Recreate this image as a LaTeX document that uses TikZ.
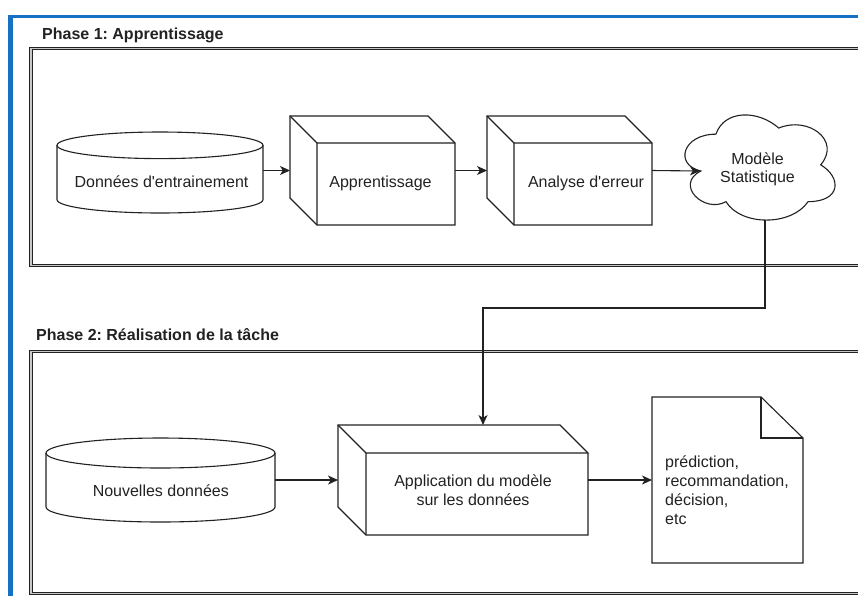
\documentclass[tikz,border=0pt]{standalone}
\usepackage{fontspec}
\setmainfont{Liberation Sans}[Ligatures=TeXOff]
\usetikzlibrary{arrows.meta,calc}
\frenchspacing

\definecolor{frameblue}{RGB}{22,112,196}
\definecolor{ink}{RGB}{34,34,34}

\tikzset{
  shapeline/.style={draw=ink, line width=1.1pt, line join=miter, fill=white},
  anchorbox/.style={inner sep=0pt, outer sep=0pt, draw=none},
  lbl/.style={text=ink, font=\fontsize{16}{19}\selectfont, inner sep=0pt},
  phaselbl/.style={text=ink, font=\fontsize{16}{19}\selectfont\bfseries, inner sep=0pt, anchor=base west},
  phasebox/.style={draw=ink, line width=0.9pt, double=black!22, double distance=1.4pt},
  conn/.style={draw=ink, line width=1.1pt, -{Stealth[length=10pt,width=9pt,inset=2.8pt]}},
}

% database drum around a node: #1 node, #2 half width, #3 ellipse radius
\newcommand\drawdrum[3]{%
  \path[shapeline] ([yshift=-#3]#1.north west) -- ([yshift=#3]#1.south west)
    arc[start angle=180,end angle=360,x radius=#2,y radius=#3]
    -- ([yshift=-#3]#1.north east)
    arc[start angle=0,end angle=180,x radius=#2,y radius=#3] -- cycle;
  \draw[shapeline,fill=none] ([yshift=-#3]#1.north west)
    arc[start angle=180,end angle=360,x radius=#2,y radius=#3];
}

% 3D box around a node: #1 node, #2 depth
\newcommand\drawcube[2]{%
  \path[shapeline] (#1.north west) -- ([xshift=-#2]#1.north east)
    -- ([yshift=-#2]#1.north east) -- (#1.south east)
    -- ([xshift=#2]#1.south west) -- ([yshift=#2]#1.south west) -- cycle;
  \draw[shapeline,fill=none] (#1.north west) -- ([xshift=#2,yshift=-#2]#1.north west)
    -- ([yshift=-#2]#1.north east)
    ([xshift=#2,yshift=-#2]#1.north west) -- ([xshift=#2]#1.south west);
}

\begin{document}
\begin{tikzpicture}[x=1pt,y=-1pt]
  \useasboundingbox (0,0) rectangle (858,595);
  \clip (0,0) rectangle (858,595);
  \fill[white] (0,0) rectangle (858,595);

  % outer frame
  \draw[frameblue, line width=4.6pt] (10.7,600) -- (10.7,14.5);
  \draw[frameblue, line width=3pt] (8.4,16.5) -- (870,16.5);

  % phase containers
  \node[phaselbl] (phaseone) at (42,39.3) {Phase 1: Apprentissage};
  \draw[phasebox] (31,48.3) rectangle (875,265.5);
  \node[phaselbl] (phasetwo) at (36,340.7) {Phase 2: Réalisation de la tâche};
  \draw[phasebox] (31,351.5) rectangle (875,593.5);

  % shape frames
  \node[anchorbox, minimum width=206pt, minimum height=81pt] (train) at (160,172.5) {};
  \node[anchorbox, minimum width=165pt, minimum height=109pt] (learn) at (372.5,170.5) {};
  \node[anchorbox, minimum width=165pt, minimum height=109pt] (error) at (569.5,170.5) {};
  \node[anchorbox, minimum width=116pt, minimum height=98pt] (model) at (758,171) {};
  \node[anchorbox, minimum width=229pt, minimum height=84pt] (fresh) at (160.5,480) {};
  \node[anchorbox, minimum width=250pt, minimum height=110pt] (apply) at (463,480) {};
  \node[anchorbox, minimum width=151pt, minimum height=166pt] (result) at (727.5,480) {};

  % phase 1 shapes
  \drawdrum{train}{103pt}{13.3pt}
  \drawcube{learn}{27pt}
  \drawcube{error}{27pt}
  \begin{scope}[shift={(674,103.5)}, x=167.6pt, y=-122.7pt]
    \path[shapeline] (0.25,0.25) .. controls (0.05,0.25) and (0,0.5) .. (0.16,0.55)
      .. controls (0,0.66) and (0.18,0.9) .. (0.31,0.8)
      .. controls (0.4,1) and (0.7,1) .. (0.8,0.8)
      .. controls (1,0.8) and (1,0.6) .. (0.875,0.5)
      .. controls (1,0.3) and (0.8,0.1) .. (0.625,0.2)
      .. controls (0.5,0.05) and (0.3,0.05) .. (0.25,0.25) -- cycle;
  \end{scope}

  % phase 2 shapes
  \drawdrum{fresh}{114.5pt}{15pt}
  \drawcube{apply}{28pt}
  \path[shapeline] (result.north west) -- ([xshift=-42pt]result.north east)
    -- ([yshift=-41pt]result.north east) -- (result.south east)
    -- (result.south west) -- cycle;
  \draw[shapeline,fill=none] ([xshift=-42pt]result.north east)
    -- ([xshift=-42pt,yshift=-41pt]result.north east) -- ([yshift=-41pt]result.north east);

  % connectors
  \draw[conn] (train.east |- learn.west) -- (learn.west);
  \draw[conn] (learn.east) -- (error.west);
  \draw[conn] (error.east) -- (model.west);
  \draw[conn] ([xshift=7pt]model.south) -- ++(0,88) -| ([xshift=20pt]apply.north);
  \draw[conn] (fresh.east) -- (apply.west);
  \draw[conn] (apply.east) -- (result.west);

  % labels
  \node[lbl, anchor=base] (traintxt) at (161.5,187.3) {Données d'entrainement};
  \node[lbl, anchor=base] (learntxt) at (380.5,187.3) {Apprentissage};
  \node[lbl, anchor=base] (errortxt) at (586,187.3) {Analyse d'erreur};
  \node[lbl, align=center, font=\fontsize{16}{18}\selectfont] (modeltxt) at (757.5,169.2) {Modèle\\Statistique};
  \node[lbl, anchor=base] (freshtxt) at (160.8,496.7) {Nouvelles données};
  \node[lbl, align=center] (applytxt) at (473,489.7) {Application du modèle\\sur les données};
  \node[lbl, align=left, anchor=west] (resulttxt) at (665,489.8) {prédiction,\\recommandation,\\décision,\\etc};
\end{tikzpicture}
\end{document}
